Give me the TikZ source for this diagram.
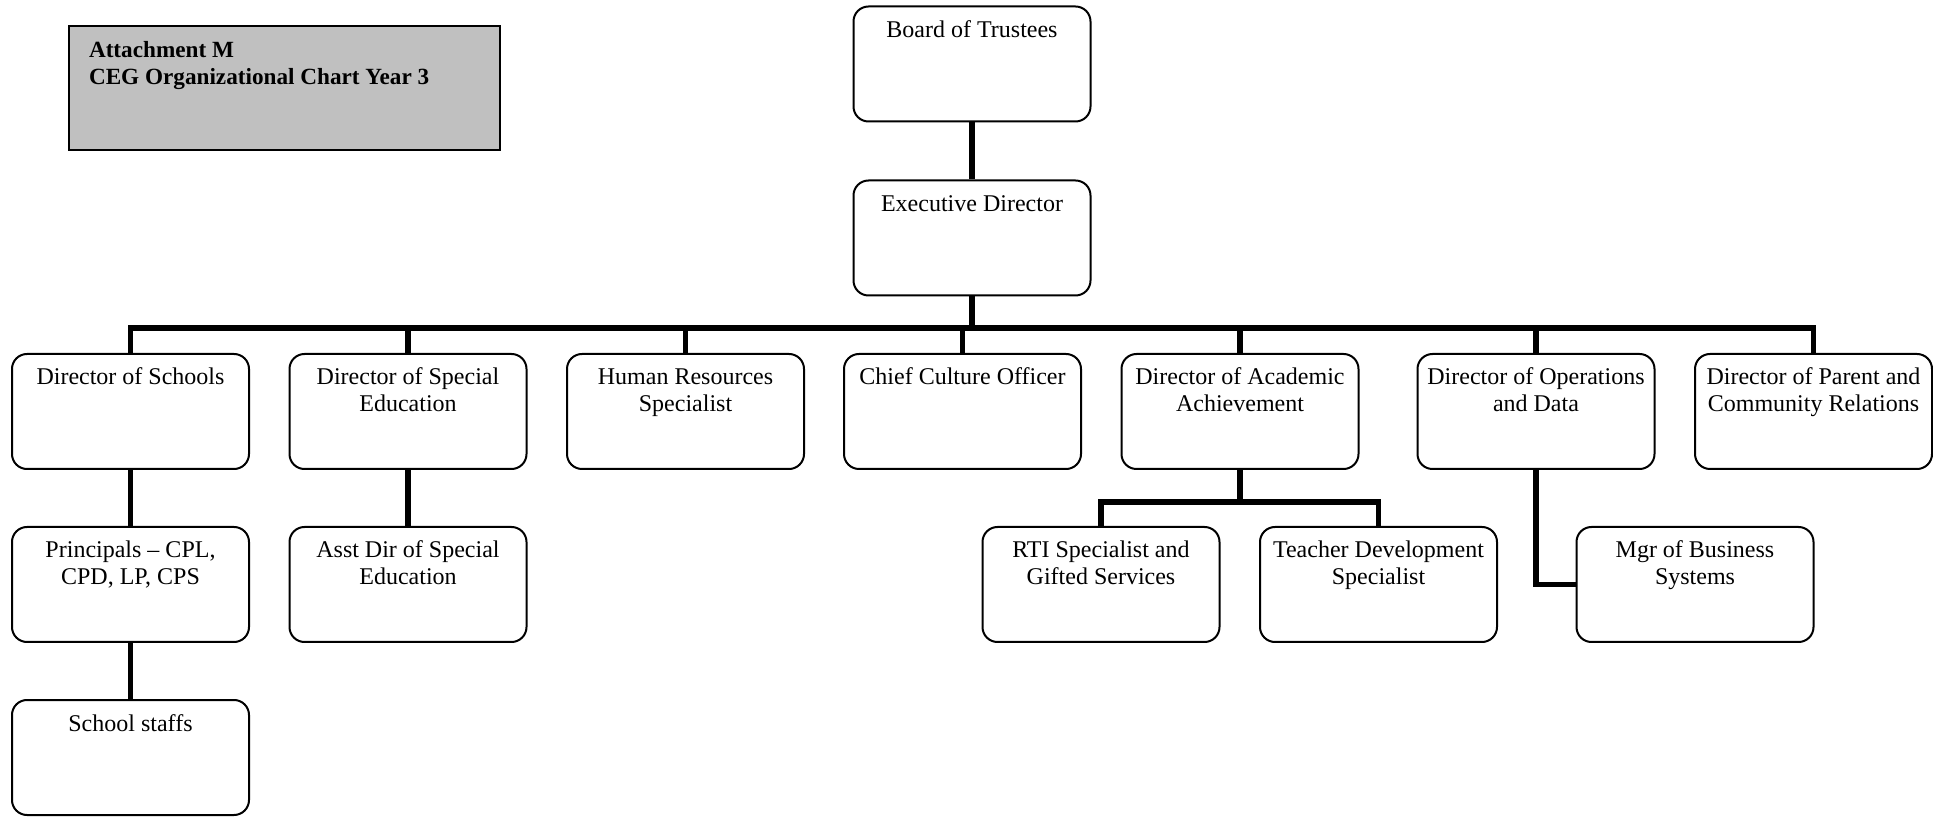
\documentclass[tikz,border=0pt]{standalone}
\usepackage{fontspec}
\setmainfont{Liberation Serif}

% text inside an org box: top aligned, centred lines
\newcommand{\orgtext}[1]{\parbox[t][57.5pt][t]{118.5pt}{\centering\fontsize{12}{13.5}\selectfont\rule{0pt}{15.5pt}#1}}

\definecolor{titlegray}{RGB}{192,192,192}
\tikzset{
  unit/.style={draw, line width=1pt, rounded corners=7.5pt, fill=white, inner sep=0pt},
  titlebox/.style={draw, line width=1pt, fill=titlegray, inner sep=0pt},
  link/.style={line width=2.8pt, line join=miter},
}

\begin{document}
\begin{tikzpicture}[x=0.5pt, y=-0.5pt]
\useasboundingbox (0,0) rectangle (1933,817);

% heading
\node[titlebox] (title) at (284.5,88) {\parbox[t][62pt][t]{215.5pt}{\leftskip=10pt\fontsize{11.6}{13.5}\selectfont\bfseries\rule{0pt}{16pt}Attachment M\\CEG Organizational Chart Year 3}};

% top of the chart
\node[unit] (board) at (972,64) {\orgtext{Board of Trustees}};
\node[unit] (exec)  at (972,238) {\orgtext{Executive Director}};

% directors
\node[unit] (schools) at (130.5,411.5) {\orgtext{Director of Schools}};
\node[unit] (sped)    at (408,411.5)   {\orgtext{Director of Special\\Education}};
\node[unit] (hr)      at (685.5,411.5) {\orgtext{Human Resources\\Specialist}};
\node[unit] (culture) at (962.5,411.5) {\orgtext{Chief Culture Officer}};
\node[unit] (acad)    at (1240,411.5)  {\orgtext{Director of Academic\\Achievement}};
\node[unit] (ops)     at (1536,411.5)  {\orgtext{Director of Operations\\and Data}};
\node[unit] (parent)  at (1813.5,411.5){\orgtext{Director of Parent and\\Community Relations}};

% third level
\node[unit] (principals) at (130.5,584.5) {\orgtext{Principals -- CPL,\\CPD, LP, CPS}};
\node[unit] (asstsped)   at (408,584.5)   {\orgtext{Asst Dir of Special\\Education}};
\node[unit] (rti)        at (1101,584.5)  {\orgtext{RTI Specialist and\\Gifted Services}};
\node[unit] (tdev)       at (1378.5,584.5){\orgtext{Teacher Development\\Specialist}};
\node[unit] (mgr)        at (1695,584.5)  {\orgtext{Mgr of Business\\Systems}};

% fourth level
\node[unit] (staff) at (130.5,757.5) {\orgtext{School staffs}};

% connectors
\coordinate (bar) at (0,328);
\coordinate (acadbar) at (0,502);

\draw[link] (board.south) -- (exec.north);
\draw[link] (exec.south) -- (exec.south |- bar);
\draw[link] (schools.north) -- (schools.north |- bar) -- (parent.north |- bar) -- (parent.north);
\draw[link] (sped.north) -- (sped.north |- bar);
\draw[link] (hr.north) -- (hr.north |- bar);
\draw[link] (culture.north) -- (culture.north |- bar);
\draw[link] (acad.north) -- (acad.north |- bar);
\draw[link] (ops.north) -- (ops.north |- bar);

\draw[link] (schools.south) -- (principals.north);
\draw[link] (principals.south) -- (staff.north);
\draw[link] (sped.south) -- (asstsped.north);

\draw[link] (acad.south) -- (acad.south |- acadbar);
\draw[link] (rti.north) -- (rti.north |- acadbar) -- (tdev.north |- acadbar) -- (tdev.north);

\draw[link] (ops.south) |- (mgr.west);
\end{tikzpicture}
\end{document}
